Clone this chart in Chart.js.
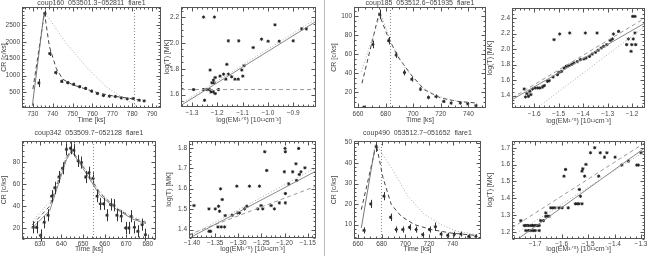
<!DOCTYPE html>
<html>
<head>
<meta charset="utf-8">
<script src="https://cdn.jsdelivr.net/npm/chart.js@4"></script>
<style>
body { margin: 0; background: #fff; width: 648px; height: 256px; position: relative; overflow: hidden; }
canvas { position: absolute; }
#sep { position: absolute; left: 324px; top: 0; width: 1px; height: 256px; background: #bbb; }
</style>
</head>
<body>
<div id="sep"></div>
<script>
// coup160 light curve
let p1XTicks = [730, 740, 750, 760, 770, 780, 790];
let p1YTicks = [500, 1000, 1500, 2000, 2500];
let p1Time = [733, 736, 738.5, 741.5, 744.5, 747.5, 750.5, 753.5, 756.5, 759.5, 762.5, 765.5, 768.5, 771.5, 774.5, 777.5, 780.5, 783.5, 786];
let p1Rate = [780, 2840, 1650, 1090, 830, 790, 740, 670, 620, 540, 470, 410, 390, 380, 340, 310, 320, 270, 250];
let p1Err = [120, 90, 70, 60, 50, 45, 45, 40, 40, 40, 35, 35, 35, 35, 30, 30, 30, 30, 30];
let p1FitTime = [730, 735.8, 738.3, 741.7, 745, 750, 756.7, 763.3, 771.7, 780, 786.7];
let p1FitRate = [600, 2860, 1860, 1220, 894, 727, 600, 480, 382, 313, 254];
let p1RiseTime = [729.7, 735.5];
let p1RiseRate = [106, 2800];
let p1ModTime = [736.3, 746.7, 756.7, 766.7, 776.7, 781.7];
let p1ModRate = [2844, 1958, 1268, 677, 283, 135];
let p1Mark = 780.8;

// coup160 T vs EM
let p2XTicks = [-1.3, -1.2, -1.1, -1.0, -0.9];
let p2YTicks = [1.6, 1.8, 2.0, 2.2];
let p2EM = [-1.254, -1.211, -1.156, -1.115, -1.058, -1.025, -0.999, -0.972, -0.955, -0.900, -0.867, -0.848,
  -1.162, -1.094, -1.228, -1.189, -1.175, -1.156, -1.103, -1.099, -1.166, -1.130, -1.117, -1.143,
  -1.215, -1.208, -1.221, -1.212, -1.254, -1.241, -1.231, -1.293, -1.195, -1.225, -1.215, -1.208, -1.250];
let p2T = [2.200, 2.200, 2.016, 2.016, 1.964, 2.029, 2.013, 2.140, 2.013, 2.016, 2.109, 2.109,
  1.834, 1.823, 1.790, 1.743, 1.758, 1.758, 1.790, 1.743, 1.719, 1.719, 1.719, 1.738,
  1.712, 1.732, 1.691, 1.691, 1.639, 1.639, 1.639, 1.639, 1.639, 1.621, 1.621, 1.608, 1.556];
let p2LineEM = [-1.343, -0.81];
let p2LineT = [1.517, 2.166];
let p2DotT = [1.530, 2.185];
let p2FlatT = [1.639, 1.639];

// coup185 light curve
let p3XTicks = [660, 680, 700, 720, 740];
let p3YTicks = [20, 40, 60, 80, 100];
let p3Time = [664.3, 670.8, 675.7, 682.2, 687.7, 693.7, 699, 705.3, 711.1, 716.6, 722.2, 727.5, 734.2, 739.5, 745.5];
let p3Rate = [4.7, 70.4, 102, 74.3, 59.3, 40.9, 33.9, 23.5, 14.8, 15.8, 10.6, 8.9, 8.9, 8.2, 6.1];
let p3Err = [1, 4, 5, 4, 3, 3, 2.5, 2, 2, 2, 1.5, 1.5, 1.5, 1.5, 1.5];
let p3FitTime = [662.9, 675.2, 681.7, 688.9, 698.6, 708.2, 720.2, 732.3, 746.7];
let p3FitRate = [29.7, 102.8, 78.4, 57.6, 38.4, 22.8, 14.1, 10.6, 8.9];
let p3ModTime = [662.4, 676.4, 684, 694.5, 705, 716, 728, 740, 747];
let p3ModRate = [41.9, 102.8, 72, 45, 27, 17, 12, 9.5, 8.5];
let p3Mark = 683.1;

// coup185 T vs EM
let p4XTicks = [-1.6, -1.5, -1.4, -1.3, -1.2];
let p4YTicks = [1.4, 1.6, 1.8, 2.0, 2.2, 2.4];
let p4EM = [-1.197, -1.188, -1.519, -1.496, -1.455, -1.391, -1.343, -1.276, -1.255, -1.215, -1.195, -1.222, -1.201, -1.185, -1.204, -1.188,
  -1.641, -1.636, -1.630, -1.624, -1.618, -1.614, -1.607, -1.596, -1.586, -1.577, -1.566, -1.559, -1.546, -1.539, -1.523, -1.505,
  -1.499, -1.488, -1.478, -1.469, -1.458, -1.447, -1.438, -1.424, -1.411, -1.397, -1.388, -1.374, -1.363, -1.350, -1.339, -1.326,
  -1.316, -1.303, -1.289, -1.280];
let p4T = [2.421, 2.421, 2.121, 2.194, 2.207, 2.207, 2.207, 2.194, 2.228, 2.130, 2.130, 2.057, 2.057, 2.057, 1.971, 2.207,
  1.486, 1.383, 1.426, 1.391, 1.456, 1.413, 1.486, 1.499, 1.499, 1.499, 1.512, 1.529, 1.585, 1.593, 1.640, 1.670,
  1.700, 1.713, 1.756, 1.778, 1.786, 1.803, 1.821, 1.838, 1.864, 1.872, 1.885, 1.906, 1.936, 1.958, 1.984, 2.014,
  2.035, 2.057, 2.112, 2.130];
let p4LineEM = [-1.691, -1.147];
let p4LineT = [1.348, 2.336];
let p4DashT = [1.370, 2.400];
let p4DotEM = [-1.580, -1.147];
let p4DotT = [1.263, 2.293];

// coup342 light curve
let p5XTicks = [630, 640, 650, 660, 670, 680];
let p5YTicks = [20, 40, 60, 80];
let p5Time = [626.9, 628.5, 630.3, 632, 633.8, 635.4, 636.9, 638.8, 640.5, 642.3, 644.2, 645.7, 647.7, 649.2, 651.2, 652.8,
  654.6, 656.5, 658, 659.5, 661.1, 662.8, 664.3, 665.7, 667.7, 669.7, 671.2, 672.3, 673.8, 675.4, 677.4, 678.9];
let p5Rate = [20.6, 20.6, 13.3, 25.2, 31.6, 48.9, 56.5, 66.3, 74.2, 91.5, 92.4, 90.6, 80.9, 79.4, 66.3, 70.2,
  65.1, 48.9, 41.9, 41.9, 31.6, 41.3, 40.7, 31.6, 30.7, 20, 20, 30.7, 20.6, 17, 23, 13.9];
let p5Err = 5.5;
let p5FitTime = [626.5, 634.6, 642.3, 644.6, 650, 657.7, 665.4, 673.1, 679.2];
let p5FitRate = [23, 40, 84, 91, 76, 52, 38, 29, 25];
let p5SolidRate = [20, 36, 82, 90, 74, 50, 37, 28, 24];
let p5ModRate = [26, 44, 86, 90, 77, 53, 39, 30, 26];
let p5Mark = 654.6;

// coup342 T vs EM
let p6XTicks = [-1.40, -1.35, -1.30, -1.25, -1.20, -1.15];
let p6YTicks = [1.4, 1.5, 1.6, 1.7, 1.8];
let p6EM = [-1.3957, -1.3634, -1.3634, -1.3598, -1.3497, -1.3426, -1.3404, -1.3383, -1.3347, -1.344, -1.3368, -1.3296, -1.3282, -1.3131,
  -1.3031, -1.3009, -1.2973, -1.2866, -1.2815, -1.2758, -1.2578, -1.2542, -1.2507, -1.2471, -1.2428, -1.2385, -1.2291, -1.2219,
  -1.2112, -1.2004, -1.1989, -1.1982, -1.1982, -1.1982, -1.1911, -1.1824, -1.1753, -1.1738, -1.1695, -1.1681, -1.1645, -1.1559];
let p6T = [1.5175, 1.5012, 1.3918, 1.3918, 1.5012, 1.5142, 1.4897, 1.5991, 1.5469, 1.413, 1.413, 1.413, 1.4685, 1.4701,
  1.6122, 1.4816, 1.4816, 1.5012, 1.5142, 1.6122, 1.5012, 1.6122, 1.5175, 1.5012, 1.7804, 1.689, 1.5175, 1.5012,
  1.5306, 1.6824, 1.7967, 1.7804, 1.5763, 1.5306, 1.6236, 1.6824, 1.7216, 1.64, 1.7967, 1.6694, 1.6824, 1.702];
let p6LineEM = [-1.4065, -1.132];
let p6LineT = [1.358, 1.686];
let p6DotT = [1.367, 1.702];
let p6DashT = [1.376, 1.612];

// coup490 light curve
let p7XTicks = [660, 680, 700, 720, 740];
let p7YTicks = [10, 20, 30, 40, 50];
let p7Time = [665.1, 670.7, 675.4, 681.9, 687.5, 692.3, 697.9, 703.5, 709.1, 714.7, 720.4, 725.4, 730.2, 735.8, 741.4, 747, 753.5, 759.6];
let p7Rate = [7.2, 20.1, 48, 23.9, 13.6, 7.6, 7.6, 8.7, 7.6, 5.1, 7.6, 9, 5.4, 4.8, 5.4, 5.4, 4.3, 4.3];
let p7Err = [1.5, 2, 2.5, 2, 1.8, 1.5, 1.5, 1.5, 1.5, 1.2, 1.5, 2, 1.2, 1.2, 1.2, 1.2, 1, 1];
let p7FitTime = [662.8, 675.4, 681.1, 688.1, 696.5, 707.7, 721.8, 738.6, 758.2];
let p7FitRate = [17.3, 49.2, 32.9, 19.8, 14.1, 10, 7.6, 5.9, 4.8];
let p7ModTime = [675.4, 688.1, 702.1, 716.1, 730.2, 744.2, 761];
let p7ModRate = [49.2, 37.8, 23.9, 14.9, 10, 6.7, 5.1];
let p7RiseTime = [662.8, 674];
let p7RiseRate = [8.4, 46.7];
let p7Mark = 679.6;

// coup490 T vs EM
let p8XTicks = [-1.7, -1.6, -1.5, -1.4, -1.3];
let p8YTicks = [1.2, 1.3, 1.4, 1.5, 1.6, 1.7];
let p8EM = [-1.754, -1.741, -1.735, -1.729, -1.723, -1.716, -1.710, -1.735, -1.725, -1.716, -1.707, -1.700, -1.704, -1.698,
  -1.691, -1.685, -1.685, -1.679, -1.669, -1.660, -1.654, -1.648, -1.660, -1.641, -1.633, -1.625, -1.610, -1.598, -1.591,
  -1.585, -1.575, -1.548, -1.541, -1.535, -1.533, -1.529, -1.523, -1.523, -1.520, -1.513, -1.508, -1.491, -1.475, -1.460,
  -1.454, -1.438, -1.429, -1.398, -1.373, -1.348, -1.316, -1.310, -1.300];
let p8T = [1.267, 1.238, 1.238, 1.238, 1.238, 1.238, 1.238, 1.208, 1.208, 1.208, 1.208, 1.208, 1.238, 1.238,
  1.238, 1.238, 1.208, 1.267, 1.267, 1.293, 1.293, 1.293, 1.313, 1.343, 1.343, 1.343, 1.343, 1.343, 1.531,
  1.571, 1.343, 1.367, 1.367, 1.367, 1.452, 1.412, 1.367, 1.561, 1.575, 1.531, 1.601, 1.670, 1.700, 1.531,
  1.670, 1.644, 1.670, 1.644, 1.597, 1.621, 1.597, 1.597, 1.670];
let p8LineEM = [-1.76, -1.285];
let p8LineT = [1.164, 1.700];
let p8DashEM = [-1.7875, -1.285];
let p8DashT = [1.224, 1.730];
let p8DotT = [1.204, 1.680];

const FONT = "'Liberation Sans', Arial, sans-serif";
const INK = '#444';

function fmt(d) {
  return v => (v < 0 ? '\u2212' : '') + Math.abs(v).toFixed(d);
}

function steps(min, max, step) {
  let out = [];
  for (let i = Math.ceil(min / step - 1e-6); i * step <= max + 1e-9; i++) out.push(i * step);
  return out;
}

function pairs(xs, ys) {
  return xs.map((v, i) => ({ x: v, y: ys[i] }));
}

function axis(min, max, ticks, dec, title, size, pad, tpad) {
  return {
    type: 'linear', min: min, max: max, bounds: 'data',
    afterBuildTicks: s => { s.ticks = ticks.map(v => ({ value: v })); },
    afterFit: s => { if (s.isHorizontal()) s.height = size; else s.width = size; },
    grid: { display: false, drawTicks: false },
    border: { display: false },
    ticks: { font: { family: FONT, size: 6.5 }, color: INK, padding: pad, autoSkip: false, maxRotation: 0, callback: fmt(dec) },
    title: { display: true, text: title, font: { family: FONT, size: 7 }, color: INK, padding: tpad }
  };
}

function drawIdl(chart, p) {
  let ctx = chart.ctx, a = chart.chartArea, xs = chart.scales.x, ys = chart.scales.y;
  ctx.save();
  ctx.lineWidth = 1;

  // error bars
  if (p.err !== undefined) {
    ctx.strokeStyle = '#333';
    p.px.forEach((v, i) => {
      let e = Array.isArray(p.err) ? p.err[i] : p.err;
      let x = Math.round(xs.getPixelForValue(v)) + 0.5;
      ctx.beginPath();
      ctx.moveTo(x, ys.getPixelForValue(p.py[i] - e));
      ctx.lineTo(x, ys.getPixelForValue(p.py[i] + e));
      ctx.stroke();
    });
  }

  // vertical marker
  if (p.mark !== undefined) {
    let x = Math.round(xs.getPixelForValue(p.mark)) + 0.5;
    ctx.strokeStyle = '#888';
    ctx.setLineDash([1, 2]);
    ctx.beginPath(); ctx.moveTo(x, a.top); ctx.lineTo(x, a.bottom); ctx.stroke();
    ctx.setLineDash([]);
  }

  // box with inward ticks
  ctx.strokeStyle = '#555';
  let l = Math.round(a.left) + 0.5, t = Math.round(a.top) + 0.5;
  let r = Math.round(a.right) - 0.5, b = Math.round(a.bottom) - 0.5;
  ctx.strokeRect(l, t, r - l, b - t);
  let tick = (scale, vals, len) => vals.forEach(v => {
    let q = Math.round(scale.getPixelForValue(v)) + 0.5;
    ctx.beginPath();
    if (scale.isHorizontal()) {
      ctx.moveTo(q, b); ctx.lineTo(q, b - len); ctx.moveTo(q, t); ctx.lineTo(q, t + len);
    } else {
      ctx.moveTo(l, q); ctx.lineTo(l + len, q); ctx.moveTo(r, q); ctx.lineTo(r - len, q);
    }
    ctx.stroke();
  });
  tick(xs, steps(xs.min, xs.max, p.xMinor), 2);
  tick(ys, steps(ys.min, ys.max, p.yMinor), 2);
  tick(xs, p.xTicks, 4);
  tick(ys, p.yTicks, 4);

  if (p.title) {
    ctx.fillStyle = INK;
    ctx.font = '7px ' + FONT;
    ctx.textAlign = 'center';
    ctx.textBaseline = 'bottom';
    ctx.fillText(p.title, (a.left + a.right) / 2, a.top - p.titleGap);
  }
  ctx.restore();
}

let n = 0;
function addPanel(p) {
  let w = p.box[2] - p.box[0] + p.yW + 4;
  let h = p.box[3] - p.box[1] + p.tPad + p.xH;
  let c = document.createElement('canvas');
  c.width = w; c.height = h;
  c.style.left = (p.box[0] - p.yW) + 'px';
  c.style.top = (p.box[1] - p.tPad) + 'px';
  document.body.appendChild(c);

  let sets = p.lines.map(l => ({
    data: pairs(l.x, l.y), showLine: true, pointRadius: 0,
    borderColor: l.color, borderWidth: 1, borderDash: l.dash || []
  }));
  sets.push({
    data: pairs(p.px, p.py), showLine: false, pointStyle: 'star', pointRadius: 1.6,
    borderColor: '#222', backgroundColor: '#222', borderWidth: 1
  });

  n++;
  new Chart(c, {
    type: 'scatter',
    data: { datasets: sets },
    options: {
      responsive: false, animation: false, events: [],
      layout: { padding: { top: p.tPad, right: 4, left: 0, bottom: 0 } },
      plugins: { legend: { display: false }, tooltip: { enabled: false } },
      scales: {
        x: axis(p.x[0], p.x[1], p.xTicks, p.xDec, p.xTitle, p.xH, p.xPad, { top: 0, bottom: 1 }),
        y: axis(p.y[0], p.y[1], p.yTicks, p.yDec, p.yTitle, p.yW, 2, { top: 0, bottom: 0 })
      }
    },
    plugins: [{ id: 'idl' + n, afterDatasetsDraw: chart => drawIdl(chart, p) }]
  });
}

const EMT = 'log(EM\u00b9\u141f\u2075) [10\u00b9\u00b9cm\u207b\u00b3]';
const TT = 'log(T) [MK]';
const CRT = 'CR [c/ks]';
const TIME = 'Time [ks]';

addPanel({
  box: [22, 7, 162, 108], yW: 22, tPad: 7, xH: 17, xPad: 2,
  x: [724.5, 794.5], y: [40, 3030], xTicks: p1XTicks, yTicks: p1YTicks, xMinor: 2, yMinor: 100, xDec: 0, yDec: 0,
  xTitle: TIME, yTitle: CRT, title: 'coup160  053501.3\u2212052811  flare1', titleGap: 0,
  px: p1Time, py: p1Rate, err: p1Err, mark: p1Mark,
  lines: [
    { x: p1ModTime, y: p1ModRate, color: '#aaa', dash: [1, 2] },
    { x: p1RiseTime, y: p1RiseRate, color: '#777' },
    { x: p1FitTime, y: p1FitRate, color: '#444', dash: [4, 3] }
  ]
});

addPanel({
  box: [181, 7, 317, 107], yW: 18, tPad: 7, xH: 18, xPad: 2,
  x: [-1.343, -0.81], y: [1.504, 2.278], xTicks: p2XTicks, yTicks: p2YTicks, xMinor: 0.02, yMinor: 0.05, xDec: 1, yDec: 1,
  xTitle: EMT, yTitle: TT,
  px: p2EM, py: p2T,
  lines: [
    { x: p2LineEM, y: p2DotT, color: '#aaa', dash: [1, 2] },
    { x: p2LineEM, y: p2LineT, color: '#888' },
    { x: p2LineEM, y: p2FlatT, color: '#999', dash: [4, 3] }
  ]
});

addPanel({
  box: [354, 7, 487, 108], yW: 24, tPad: 7, xH: 17, xPad: 2,
  x: [657.1, 752.8], y: [3.7, 109.7], xTicks: p3XTicks, yTicks: p3YTicks, xMinor: 5, yMinor: 5, xDec: 0, yDec: 0,
  xTitle: TIME, yTitle: CRT, title: 'coup185  053512.6\u2212051935  flare1', titleGap: 0,
  px: p3Time, py: p3Rate, err: p3Err, mark: p3Mark,
  lines: [
    { x: p3ModTime, y: p3ModRate, color: '#aaa', dash: [1, 2] },
    { x: p3FitTime, y: p3FitRate, color: '#444', dash: [4, 3] }
  ]
});

addPanel({
  box: [512, 8, 646, 108], yW: 26, tPad: 8, xH: 18, xPad: 2,
  x: [-1.691, -1.147], y: [1.241, 2.529], xTicks: p4XTicks, yTicks: p4YTicks, xMinor: 0.02, yMinor: 0.05, xDec: 1, yDec: 1,
  xTitle: EMT, yTitle: TT,
  px: p4EM, py: p4T,
  lines: [
    { x: p4DotEM, y: p4DotT, color: '#aaa', dash: [1, 2] },
    { x: p4LineEM, y: p4LineT, color: '#888' },
    { x: p4LineEM, y: p4DashT, color: '#999', dash: [4, 3] }
  ]
});

addPanel({
  box: [22, 141, 157, 239], yW: 22, tPad: 13, xH: 15, xPad: 1,
  x: [621.7, 683.8], y: [10, 99], xTicks: p5XTicks, yTicks: p5YTicks, xMinor: 2, yMinor: 5, xDec: 0, yDec: 0,
  xTitle: TIME, yTitle: CRT, title: 'coup342  053509.7\u2212052128  flare1', titleGap: 4,
  px: p5Time, py: p5Rate, err: p5Err, mark: p5Mark,
  lines: [
    { x: p5FitTime, y: p5ModRate, color: '#aaa', dash: [1, 2] },
    { x: p5FitTime, y: p5SolidRate, color: '#888' },
    { x: p5FitTime, y: p5FitRate, color: '#555', dash: [4, 3] }
  ]
});

addPanel({
  box: [189, 141, 317, 238], yW: 24, tPad: 13, xH: 16, xPad: 1,
  x: [-1.4065, -1.132], y: [1.359, 1.833], xTicks: p6XTicks, yTicks: p6YTicks, xMinor: 0.01, yMinor: 0.02, xDec: 2, yDec: 1,
  xTitle: EMT, yTitle: TT,
  px: p6EM, py: p6T,
  lines: [
    { x: p6LineEM, y: p6DotT, color: '#aaa', dash: [1, 2] },
    { x: p6LineEM, y: p6LineT, color: '#888' },
    { x: p6LineEM, y: p6DashT, color: '#999', dash: [4, 3] }
  ]
});

addPanel({
  box: [354, 141, 482, 239], yW: 24, tPad: 13, xH: 15, xPad: 1,
  x: [656.6, 763.9], y: [3, 50.8], xTicks: p7XTicks, yTicks: p7YTicks, xMinor: 5, yMinor: 2, xDec: 0, yDec: 0,
  xTitle: TIME, yTitle: CRT, title: 'coup490  053512.7\u2212051652  flare1', titleGap: 4,
  px: p7Time, py: p7Rate, err: p7Err, mark: p7Mark,
  lines: [
    { x: p7ModTime, y: p7ModRate, color: '#aaa', dash: [1, 2] },
    { x: p7RiseTime, y: p7RiseRate, color: '#777' },
    { x: p7FitTime, y: p7FitRate, color: '#444', dash: [4, 3] }
  ]
});

addPanel({
  box: [512, 141, 646, 239], yW: 26, tPad: 13, xH: 15, xPad: 1,
  x: [-1.7875, -1.285], y: [1.158, 1.740], xTicks: p8XTicks, yTicks: p8YTicks, xMinor: 0.02, yMinor: 0.02, xDec: 1, yDec: 1,
  xTitle: EMT, yTitle: TT,
  px: p8EM, py: p8T,
  lines: [
    { x: p8LineEM, y: p8DotT, color: '#aaa', dash: [1, 2] },
    { x: p8LineEM, y: p8LineT, color: '#888' },
    { x: p8DashEM, y: p8DashT, color: '#999', dash: [4, 3] }
  ]
});
</script>
</body>
</html>
